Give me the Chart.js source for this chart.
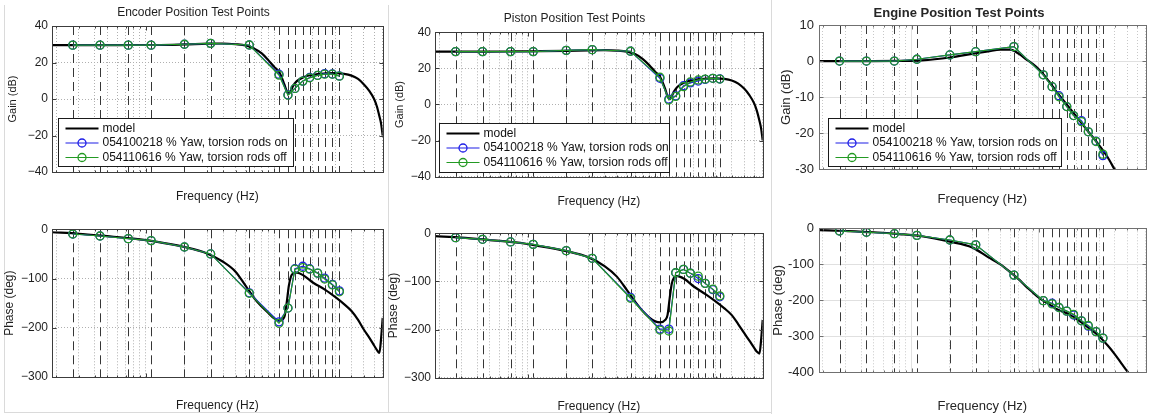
<!DOCTYPE html>
<html>
<head>
<meta charset="utf-8">
<script src="https://cdn.jsdelivr.net/npm/chart.js@4.4.1/dist/chart.umd.min.js"></script>
<style>
  html, body { margin: 0; padding: 0; background: #fff; }
  #page { position: relative; width: 1151px; height: 415px; overflow: hidden; background: #fff; }
  #page canvas { position: absolute; }
  .rule { position: absolute; background: #dadada; }
</style>
</head>
<body>
<div id="page">
  <div class="rule" style="left:4px;top:5px;width:1px;height:407px"></div>
  <div class="rule" style="left:388px;top:5px;width:1px;height:407px"></div>
  <div class="rule" style="left:771px;top:0;width:1px;height:414px"></div>
  <div class="rule" style="left:4px;top:412px;width:767px;height:1px"></div>
  <canvas id="enc-gain"></canvas>
  <canvas id="enc-phase"></canvas>
  <canvas id="pst-gain"></canvas>
  <canvas id="pst-phase"></canvas>
  <canvas id="eng-gain"></canvas>
  <canvas id="eng-phase"></canvas>
</div>
<script>
// frequencies (Hz): test points, model sweep, log grid
const testFreq = [0.27, 0.44, 0.73, 1.1, 2.0, 3.2, 6.4, 10.9, 12.8, 14.5, 16.7, 18.9, 21.8, 24.7, 28.4, 32.2];
const modelFreq = [0.186, 0.3, 0.5, 0.8, 1.2, 2, 3, 4, 5, 6, 7, 8, 9, 10, 11, 12, 12.5, 13, 13.5, 14, 15, 17, 20, 25, 30, 35, 40, 45, 50, 55, 60, 63, 66, 68, 70];
const gridFreq = [0.2, 0.3, 0.4, 0.5, 0.6, 0.7, 0.8, 0.9, 1, 2, 3, 4, 5, 6, 7, 8, 9, 10, 20, 30, 40, 50, 60, 70];
const freqRange = [0.186, 70];

const gainTicks = [-40, -20, 0, 20, 40];
const phaseTicks = [-300, -200, -100, 0];
const engGainTicks = [-30, -20, -10, 0, 10];
const engPhaseTicks = [-400, -300, -200, -100, 0];

const legendLabels = ['model', '054100218 % Yaw, torsion rods on', '054110616 % Yaw, torsion rods off'];

// encoder
const encGainModel = [29.5, 29.5, 29.5, 29.6, 29.6, 29.9, 30.3, 30.4, 30.0, 29.3, 27.5, 25.0, 21.3, 17.6, 14.5, 8.0, 4.5, 3.0, 4.5, 7.0, 9.8, 12.0, 13.3, 14.0, 14.2, 13.8, 12.8, 11.0, 8.0, 4.5, 0.0, -4.0, -9.5, -13.5, -20.0];
const encGainOn = [29.5, 29.5, 29.5, 29.5, 30.0, 30.5, 29.6, 13.6, 2.3, 5.8, 9.8, 11.8, 13.0, 13.9, 13.7, 12.6];
const encGainOff = [29.5, 29.5, 29.5, 29.5, 30.0, 30.5, 29.6, 13.1, 2.1, 5.8, 9.8, 11.6, 12.9, 13.6, 13.6, 12.5];
const encPhaseModel = [-6, -9, -14, -19, -25, -36, -49, -66, -86, -115, -140, -157, -170, -181, -186, -178, -150, -115, -96, -90, -88, -94, -108, -123, -138, -152, -166, -184, -204, -220, -236, -245, -251, -222, -180];
const encPhaseOn = [-9.5, -13.6, -19, -23, -36, -50, -129, -188, -160, -80, -75, -80, -89, -99, -112, -125];
const encPhaseOff = [-9.5, -13.6, -19, -23, -36, -50, -130, -191, -160, -81, -78, -81, -89, -101, -113, -127];

// piston
const pstGainModel = [29.3, 29.3, 29.3, 29.4, 29.5, 29.7, 30.0, 30.1, 29.9, 29.3, 27.8, 25.2, 21.8, 18.2, 15.0, 8.5, 4.5, 3.0, 4.5, 7.0, 9.8, 12.2, 13.6, 14.3, 14.5, 14.2, 13.3, 11.6, 8.8, 5.2, 0.6, -3.5, -9.0, -13.2, -19.8];
const pstGainOn = [29.3, 29.3, 29.3, 29.3, 30.0, 30.4, 29.5, 14.5, 3.0, 4.8, 10.4, 12.0, 13.0, 13.9, 14.5, 14.2];
const pstGainOff = [29.3, 29.3, 29.3, 29.3, 30.0, 30.4, 29.5, 15.1, 2.5, 4.5, 9.9, 12.5, 13.6, 14.1, 14.5, 14.1];
const pstPhaseModel = [-6, -9, -14, -19, -26, -37, -50, -68, -90, -118, -143, -162, -175, -183, -185, -180, -170, -135, -105, -93, -89, -95, -110, -127, -142, -156, -170, -189, -207, -223, -238, -246, -250, -222, -180];
const pstPhaseOn = [-9, -12.5, -18, -23, -36, -52, -133, -199, -199, -82, -75, -83, -94, -104, -117, -132];
const pstPhaseOff = [-9, -12.5, -18, -23, -36, -52, -135, -201, -203, -82, -75, -83, -89, -104, -116, -130];

// engine
const engGainModel = [0, 0, 0, 0.05, 0.2, 1.0, 2.0, 2.7, 3.2, 3.2, 2.0, 0.5, -0.8, -2.2, -3.8, -5.5, -6.3, -7.1, -7.9, -8.7, -10.0, -12.4, -15.5, -19.8, -23.3, -26.6, -30.2, -33.3, -36.2, -38.8, -41.2, -42.6, -43.9, -44.8, -45.6];
const engGainOn = [0, 0, 0, 0.5, 1.7, 2.6, 4.0, -3.8, -7.1, -9.6, -12.6, -15.1, -16.5, -19.6, -22.2, -26.2];
const engGainOff = [0, 0, 0, 0.5, 1.7, 2.6, 4.0, -3.8, -7.1, -9.9, -12.6, -15.1, -16.8, -19.6, -22.3, -25.8];
const engPhaseModel = [-5, -7.5, -11, -16, -22, -37, -53, -80, -100, -122, -142, -162, -178, -192, -202, -210, -214, -218, -222, -225, -230, -237, -252, -277, -300, -325, -350, -375, -397, -418, -437, -448, -459, -466, -472];
const engPhaseOn = [-7.5, -11, -15, -19.6, -32.5, -46, -130, -201, -208, -220, -230, -241, -257, -272, -287, -305];
const engPhaseOff = [-7.5, -11, -15, -19.6, -32.5, -46, -130, -201, -210, -220, -230, -239, -257, -270, -287, -305];

const FONT = '"Liberation Sans", Arial, Helvetica, sans-serif';
const BLUE = '#1f1fe6';
const GREEN = '#239a23';

Chart.defaults.font.family = FONT;
Chart.defaults.font.size = 12;

// older plots: dotted grid everywhere; engine plot: light solid major lines
const OLD = { frame: '#3c3c3c', grid: '#b0b0b0', minor: '#b0b0b0', solidMajor: false, text: '#1e1e1e', test: '#363636', minus: '\u2212', tickSize: 12 };
const NEW = { frame: '#707070', grid: '#e0e0e0', minor: '#c8c8c8', solidMajor: true, text: '#262626', test: '#3a3a3a', minus: '-', tickSize: 13 };

const isDecade = v => Math.abs(Math.log10(v) - Math.round(Math.log10(v))) < 1e-9;
const pair = (xs, ys) => xs.map((x, i) => ({ x, y: ys[i] }));

const testLines = {
  id: 'testLines',
  beforeDatasetsDraw(chart, args, o) {
    const { ctx, chartArea: a, scales: { x } } = chart;
    ctx.save();
    ctx.strokeStyle = o.color;
    ctx.lineWidth = 1;
    ctx.setLineDash([9, 5]);
    for (const f of testFreq) {
      const px = Math.round(x.getPixelForValue(f)) + 0.5;
      ctx.beginPath();
      ctx.moveTo(px, a.top);
      ctx.lineTo(px, a.bottom);
      ctx.stroke();
    }
    ctx.restore();
  }
};

const frame = {
  id: 'frame',
  afterDatasetsDraw(chart, args, o) {
    const { ctx, chartArea: a, scales: { x, y } } = chart;
    const px = v => Math.round(v) + 0.5;
    const l = px(a.left), r = px(a.right), t = px(a.top), b = px(a.bottom);
    ctx.save();
    ctx.strokeStyle = o.color;
    ctx.lineWidth = 1;
    ctx.beginPath();
    for (const tk of y.ticks) {
      const yy = px(y.getPixelForValue(tk.value));
      ctx.moveTo(l, yy); ctx.lineTo(l + 4, yy);
      ctx.moveTo(r, yy); ctx.lineTo(r - 4, yy);
    }
    for (const tk of x.ticks) {
      const xx = px(x.getPixelForValue(tk.value));
      const len = isDecade(tk.value) ? 4 : 2;
      ctx.moveTo(xx, t); ctx.lineTo(xx, t + len);
      ctx.moveTo(xx, b); ctx.lineTo(xx, b - len);
    }
    ctx.stroke();
    ctx.strokeRect(l, t, r - l, b - t);
    ctx.restore();
  }
};

const boxLegend = {
  id: 'boxLegend',
  afterDraw(chart, args, o) {
    const { ctx, chartArea: a } = chart;
    const x = Math.round(a.left + o.dx) + 0.5;
    const y = Math.round(a.bottom - o.dy - o.h) + 0.5;
    ctx.save();
    ctx.fillStyle = '#fff';
    ctx.fillRect(x, y, o.w, o.h);
    ctx.strokeStyle = '#1a1a1a';
    ctx.lineWidth = 1;
    ctx.strokeRect(x, y, o.w, o.h);
    ctx.font = '12px ' + FONT;
    ctx.textBaseline = 'middle';
    chart.data.datasets.forEach((ds, i) => {
      const ry = y + 10 + i * 14.5;
      ctx.strokeStyle = ds.borderColor;
      ctx.lineWidth = ds.borderWidth;
      ctx.beginPath();
      ctx.moveTo(x + 7, ry);
      ctx.lineTo(x + 40, ry);
      ctx.stroke();
      if (ds.pointRadius) {
        ctx.lineWidth = ds.pointBorderWidth;
        ctx.beginPath();
        ctx.arc(x + 23.5, ry, ds.pointRadius, 0, Math.PI * 2);
        ctx.stroke();
      }
      ctx.fillStyle = '#111';
      ctx.fillText(ds.label, x + 44, ry);
    });
    ctx.restore();
  }
};

const panels = [
  { id: 'enc-gain', style: OLD, box: [0, 0, 388, 210], plot: [52, 26, 387, 172],
    title: 'Encoder Position Test Points', titleY: 12.3, titleSize: 12, titleWeight: 'normal',
    yLabel: 'Gain (dB)', yLabelX: 12.7, yLabelSize: 11, xLabelY: 196.5, xLabelSize: 12,
    yRange: [-40, 40], yTicks: gainTicks, model: encGainModel, on: encGainOn, off: encGainOff,
    legend: { dx: 6, dy: 6, w: 235, h: 48 } },
  { id: 'enc-phase', style: OLD, box: [0, 210, 388, 205], plot: [52, 229.3, 387, 377],
    yLabel: 'Phase (deg)', yLabelX: 10, yLabelSize: 12, xLabelY: 406, xLabelSize: 12,
    yRange: [-300, 0], yTicks: phaseTicks, model: encPhaseModel, on: encPhaseOn, off: encPhaseOff },
  { id: 'pst-gain', style: OLD, box: [384, 0, 384, 210], plot: [435, 32.3, 765, 176.7],
    title: 'Piston Position Test Points', titleY: 19, titleSize: 12, titleWeight: 'normal',
    yLabel: 'Gain (dB)', yLabelX: 400, yLabelSize: 11, xLabelY: 201.5, xLabelSize: 12,
    yRange: [-40, 40], yTicks: gainTicks, model: pstGainModel, on: pstGainOn, off: pstGainOff,
    legend: { dx: 4, dy: 4.7, w: 230, h: 49 } },
  { id: 'pst-phase', style: OLD, box: [384, 210, 384, 205], plot: [435, 233.3, 765, 377.7],
    yLabel: 'Phase (deg)', yLabelX: 394, yLabelSize: 12, xLabelY: 406.7, xLabelSize: 12,
    yRange: [-300, 0], yTicks: phaseTicks, model: pstPhaseModel, on: pstPhaseOn, off: pstPhaseOff },
  { id: 'eng-gain', style: NEW, box: [768, 0, 383, 210], plot: [819, 25, 1150, 169.3],
    title: 'Engine Position Test Points', titleY: 13.3, titleSize: 13, titleWeight: 'bold',
    yLabel: 'Gain (dB)', yLabelX: 786.5, yLabelSize: 13, xLabelY: 199, xLabelSize: 13,
    yRange: [-30, 10], yTicks: engGainTicks, model: engGainModel, on: engGainOn, off: engGainOff,
    legend: { dx: 8.7, dy: 3.6, w: 233, h: 48 } },
  { id: 'eng-phase', style: NEW, box: [768, 210, 383, 205], plot: [819, 228.3, 1150, 372.3],
    yLabel: 'Phase (deg)', yLabelX: 778, yLabelSize: 13, xLabelY: 406.7, xLabelSize: 13,
    yRange: [-400, 0], yTicks: engPhaseTicks, model: engPhaseModel, on: engPhaseOn, off: engPhaseOff },
];

function makePanel(p) {
  const [cx, cy, cw, ch] = p.box;
  const [L, T, R, B] = p.plot;
  const st = p.style;
  const cv = document.getElementById(p.id);
  cv.width = cw;
  cv.height = ch;
  cv.style.left = cx + 'px';
  cv.style.top = cy + 'px';

  const tLh = (p.titleSize || 12) * 1.2;
  const xLh = p.xLabelSize * 1.2;
  const yLh = p.yLabelSize * 1.2;
  const marker = (color) => ({
    borderColor: color, borderWidth: 1.2, tension: 0,
    pointRadius: 4, pointBorderWidth: 1.3, pointBorderColor: color,
    pointBackgroundColor: 'rgba(0,0,0,0)', pointHoverRadius: 4,
  });

  return new Chart(cv, {
    type: 'line',
    data: {
      datasets: [
        { label: legendLabels[0], data: pair(modelFreq, p.model), borderColor: '#000', borderWidth: 2.2,
          pointRadius: 0, cubicInterpolationMode: 'monotone', order: 3 },
        { label: legendLabels[1], data: pair(testFreq, p.on), ...marker(BLUE), order: 2 },
        { label: legendLabels[2], data: pair(testFreq, p.off), ...marker(GREEN), order: 1 },
      ],
    },
    options: {
      responsive: false,
      animation: false,
      devicePixelRatio: 1,
      events: [],
      layout: {
        padding: {
          top: p.title ? 0 : T - cy,
          right: cx + cw - R,
          bottom: cy + ch - (p.xLabelY + xLh / 2),
          left: 0,
        },
      },
      plugins: {
        legend: { display: false },
        tooltip: { enabled: false },
        title: p.title ? {
          display: true, text: p.title, color: st.text,
          font: { size: p.titleSize, weight: p.titleWeight, lineHeight: 1.2 },
          padding: { top: p.titleY - cy - tLh / 2, bottom: T - p.titleY - tLh / 2 },
        } : { display: false },
        testLines: { color: st.test },
        frame: { color: st.frame },
        boxLegend: p.legend || false,
      },
      scales: {
        x: {
          type: 'logarithmic',
          min: freqRange[0],
          max: freqRange[1],
          afterBuildTicks: s => { s.ticks = gridFreq.map(v => ({ value: v })); },
          afterFit: s => { s.height = p.xLabelY + xLh / 2 - B; },
          ticks: { display: false },
          grid: {
            drawTicks: false,
            lineWidth: 1,
            color: c => (st.solidMajor && c.tick && isDecade(c.tick.value)) ? st.grid : st.minor,
          },
          border: {
            display: false,
            dash: c => (st.solidMajor && c.tick && isDecade(c.tick.value)) ? [] : [1, 2],
          },
          title: {
            display: true, text: 'Frequency (Hz)', color: st.text,
            font: { size: p.xLabelSize, lineHeight: 1.2 },
            padding: { top: 0, bottom: 0 },
          },
        },
        y: {
          min: p.yRange[0],
          max: p.yRange[1],
          afterBuildTicks: s => { s.ticks = p.yTicks.map(v => ({ value: v })); },
          afterFit: s => { s.width = L - cx; },
          ticks: {
            color: st.text, padding: st.solidMajor ? 5 : 4,
            font: { size: st.tickSize },
            callback: v => (v < 0 ? st.minus + Math.abs(v) : String(v)),
          },
          grid: { drawTicks: false, lineWidth: 1, color: st.grid },
          border: { display: false, dash: st.solidMajor ? [] : [1, 2] },
          title: {
            display: true, text: p.yLabel, color: st.text,
            font: { size: p.yLabelSize, lineHeight: 1.2 },
            padding: { top: p.yLabelX - cx - yLh / 2, bottom: 0 },
          },
        },
      },
    },
    plugins: [testLines, frame, boxLegend],
  });
}

panels.forEach(makePanel);
</script>
</body>
</html>
